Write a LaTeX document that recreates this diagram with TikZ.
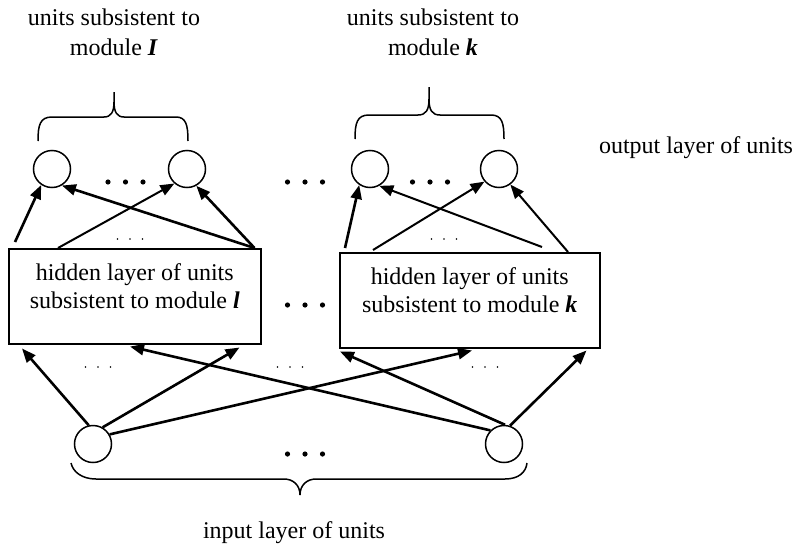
\documentclass[tikz,border=0pt]{standalone}
\usepackage{fontspec}
\setmainfont{Liberation Serif}
\usetikzlibrary{arrows.meta,calc}
\begin{document}
\begin{tikzpicture}[x=1pt,y=-1pt,
  unit/.style={circle,draw,line width=1.5pt,minimum size=37pt,inner sep=0pt},
  layerbox/.style={draw,line width=1.5pt,inner sep=0pt,anchor=north west},
  link/.style={line width=2.6pt,-{Triangle[length=14pt,width=11pt]}},
  thinlink/.style={link,line width=2pt},
  brace/.style={line width=1.5pt,line join=round},
  caption/.style={font=\fontsize{24}{30}\selectfont,align=center,inner sep=0pt},
]
\useasboundingbox (0,0) rectangle (800,546);

% output units
\node[unit] (o1) at (52,169) {};
\node[unit] (o2) at (187,169) {};
\node[unit] (o3) at (370,169) {};
\node[unit] (o4) at (499,169) {};

% input units
\node[unit] (i1) at (93,444) {};
\node[unit] (i2) at (504,444) {};

% hidden layers
\node[layerbox] (h1) at (8,248) {\parbox[c][95pt][t]{252pt}{\fontsize{24}{28}\selectfont\centering
  \vspace*{15pt}hidden layer of units\\subsistent to module \textbf{\textit{l}}}};
\node[layerbox] (h2) at (339,252) {\parbox[c][95pt][t]{260pt}{\fontsize{24}{28}\selectfont\centering
  \vspace*{15pt}hidden layer of units\\subsistent to module \textbf{\textit{k}}}};

% captions
\node[caption,anchor=north] (t1) at (114,9) {units subsistent to\\module \textbf{\textit{I}}};
\node[caption,anchor=north] (t2) at (433,9) {units subsistent to\\module \textbf{\textit{k}}};
\node[caption,anchor=base] (tout) at (696,153) {output layer of units};
\node[caption,anchor=base] (tin) at (294,538) {input layer of units};

% braces
\draw[brace] (38,141) .. controls (38,125) and (40,117) .. (52,117) -- (104,117)
  .. controls (111,117) and (114,112) .. (114,102) -- (114,92);
\draw[brace] (114,102) .. controls (114,112) and (117,117) .. (124,117) -- (176,117)
  .. controls (186,117) and (188,125) .. (188,141);
\draw[brace] (355,139) .. controls (355,123) and (357,115) .. (369,115) -- (418,115)
  .. controls (426,115) and (429,110) .. (429,99) -- (429,87);
\draw[brace] (429,99) .. controls (429,110) and (432,115) .. (440,115) -- (491,115)
  .. controls (502,115) and (504,123) .. (504,139);
\draw[brace] (71,463) .. controls (73,472) and (82,479) .. (96,479) -- (284,479)
  .. controls (293,479) and (300,485) .. (300,495);
\draw[brace] (300,495) .. controls (300,485) and (307,479) .. (316,479) -- (505,479)
  .. controls (519,479) and (526,472) .. (527,463);

% hidden -> output
\draw[link] ([xshift=7pt,yshift=6pt]h1.north west) -- (o1.236);
\draw[thinlink] ([xshift=50pt]h1.north west) -- (o2.229);
\draw[link] ([xshift=-7pt]h1.north east) -- (o1.301);
\draw[link] ([xshift=-7pt]h1.north east) -- (o2.299);
\draw[link] ([xshift=6pt,yshift=4pt]h2.north west) -- (o3.236);
\draw[thinlink] ([xshift=34pt,yshift=2pt]h2.north west) -- (o4.221);
\draw[thinlink] ([xshift=203pt,yshift=5pt]h2.north west) -- (o3.299);
\draw[thinlink] ([xshift=229pt]h2.north west) -- (o4.306);

% input -> hidden
\draw[link] (i1.103) -- ([xshift=14pt,yshift=-4pt]h1.south west);
\draw[link] (i1.60) -- ([xshift=-22pt,yshift=-3pt]h1.south east);
\draw[link] (i1.30) -- ([xshift=133pt,yshift=-2pt]h2.south west);
\draw[link] (i2.135) -- ([xshift=122pt,yshift=-2pt]h1.south west);
\draw[link] (i2.87) -- ([xshift=1pt,yshift=-3pt]h2.south west);
\draw[link] (i2.72) -- ([xshift=-14pt,yshift=-2pt]h2.south east);

% ellipses
\foreach \x/\y in {125.5/182, 305/182, 430/182, 305/305, 305/454}
  \foreach \d in {-17.5,0,17.5}
    \fill (\x+\d,\y) circle[radius=2.6pt];
\foreach \x/\y in {130/239, 444/239, 98/367, 290/367, 485/367}
  \foreach \d in {-12.5,0,12.5}
    \fill (\x+\d,\y) circle[radius=0.9pt];
\end{tikzpicture}
\end{document}
